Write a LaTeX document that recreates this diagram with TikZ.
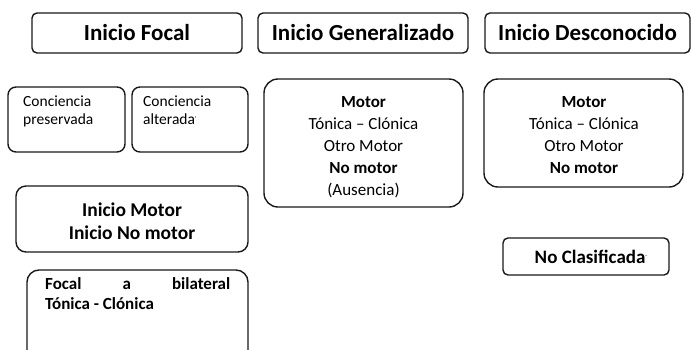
\documentclass[tikz,border=0pt]{standalone}
\usepackage{fontspec}
\setmainfont{Carlito}
\begin{document}
\begin{tikzpicture}[x=1pt,y=-1pt,
  box/.style={draw=black!90, line width=1.4pt, rounded corners=#1, inner sep=0pt},
  box/.default=5pt,
  title/.style={font=\fontsize{23}{28}\selectfont\bfseries},
  body/.style={font=\fontsize{17}{22}\selectfont, align=center, inner sep=0pt},
  small/.style={font=\fontsize{15.5}{18}\selectfont, inner sep=0pt, anchor=base west}]
\useasboundingbox (0,0) rectangle (691,349);
\clip (0,0) rectangle (691,349);
% titles
\node[box, title, minimum width=210pt, minimum height=40pt] (focal) at (137,33) {Inicio Focal};
\node[box, title, minimum width=210pt, minimum height=40pt] (gen) at (363,33) {Inicio Generalizado};
\node[box, title, minimum width=205pt, minimum height=40pt] (desc) at (587.5,33) {Inicio Desconocido};
% conciencia
\node[box=8pt, minimum width=117pt, minimum height=65pt] (pres) at (66.5,119.5) {};
\node[box=8pt, minimum width=116pt, minimum height=65pt] (alt) at (190,119.5) {};
\node[small] (pres1) at (23,106) {Conciencia};
\node[small] (pres2) at (23,124) {preservada};
\node[small] (alt1) at (143,106) {Conciencia};
\node[small] (alt2) at (143,124) {alterada\raisebox{3pt}{\fontsize{7}{8}\selectfont'}};
% motor general
\node[box=14pt, minimum width=199pt, minimum height=128pt] (gmot) at (363.5,143) {};
\node[body] (gmotT) at (363.5,147) {\textbf{Motor}\\Tónica – Clónica\\Otro Motor\\\textbf{No motor}\\(Ausencia)};
% motor desconocido
\node[box=14pt, minimum width=199pt, minimum height=108pt] (dmot) at (583.5,133) {};
\node[body] (dmotT) at (584,135.5) {\textbf{Motor}\\Tónica – Clónica\\Otro Motor\\\textbf{No motor}};
% inicio motor
\node[box=10pt, minimum width=232pt, minimum height=66pt] (imot) at (132,219) {};
\node[inner sep=0pt, align=center, font=\fontsize{19.5}{23}\selectfont\bfseries] (imotT) at (132,221.5) {Inicio Motor\\Inicio No motor};
% focal a bilateral
\node[box=12pt, minimum width=221pt, minimum height=110pt] (fbil) at (137.5,325) {};
\node[inner sep=0pt, align=left, font=\fontsize{17}{20.5}\selectfont\bfseries, anchor=north west] (fbilT) at (45,277)
  {\makebox[185pt][s]{Focal a bilateral}\\Tónica - Clónica};
% no clasificada
\node[box, minimum width=166pt, minimum height=37pt] (nocl) at (586,256.5) {};
\node[inner sep=0pt, font=\fontsize{19}{23}\selectfont\bfseries] (noclT) at (591,257) {No Clasificada\raisebox{6pt}{\fontsize{6}{7}\selectfont\mdseries -}};
\end{tikzpicture}
\end{document}
